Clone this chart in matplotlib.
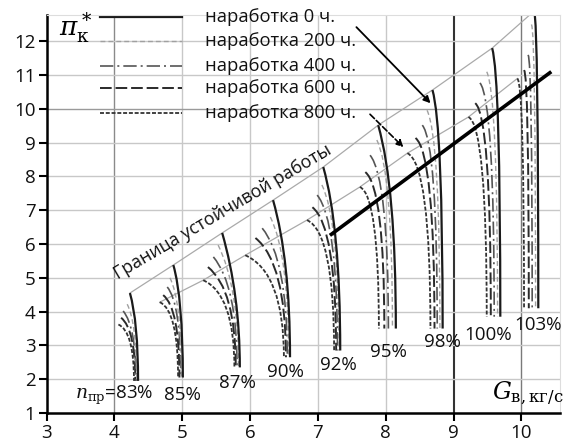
import matplotlib

matplotlib.use("Agg")
import matplotlib.pyplot as plt
from matplotlib.path import Path
from matplotlib.patches import PathPatch

# Напорные ветки характеристики компрессора при разной наработке
speeds = ["$n_{\\mathrm{пр}}$=83%", "85%", "87%", "90%", "92%", "95%", "98%", "100%", "103%"]
runtimes = ["наработка 0 ч.", "наработка 200 ч.", "наработка 400 ч.",
            "наработка 600 ч.", "наработка 800 ч."]

# верхняя точка ветки (граница устойчивой работы), по наработкам 0..800 ч
top_g = [
    [4.23, 4.19, 4.13, 4.10, 4.06],
    [4.87, 4.82, 4.78, 4.72, 4.67],
    [5.59, 5.53, 5.46, 5.38, 5.31],
    [6.34, 6.30, 6.18, 6.08, 5.93],
    [7.08, 7.06, 6.99, 6.92, 6.84],
    [7.89, 7.87, 7.77, 7.70, 7.62],
    [8.69, 8.61, 8.54, 8.44, 8.32],
    [9.57, 9.49, 9.39, 9.32, 9.22],
    [10.19, 10.15, 10.10, 10.04, 9.94],
]
top_p = [
    [4.55, 4.22, 4.02, 3.82, 3.62],
    [5.38, 5.00, 4.73, 4.49, 4.28],
    [6.33, 5.97, 5.62, 5.32, 4.93],
    [7.30, 6.80, 6.47, 6.18, 5.67],
    [8.28, 7.75, 7.45, 7.09, 6.71],
    [9.52, 9.08, 8.63, 8.13, 7.69],
    [10.56, 9.96, 9.52, 9.14, 8.69],
    [11.80, 11.10, 10.77, 10.17, 9.76],
    [12.90, 12.50, 11.60, 11.15, 10.90],
]
# точка перегиба (где ветка становится вертикальной)
knee_p = [
    [3.71, 3.66, 3.56, 3.48, 3.41],
    [4.40, 4.32, 4.25, 4.11, 4.04],
    [4.51, 4.77, 4.78, 4.66, 4.52],
    [5.55, 5.72, 5.58, 5.46, 5.16],
    [6.53, 6.75, 6.73, 6.53, 6.35],
    [7.70, 8.16, 7.98, 7.68, 7.44],
    [9.51, 9.20, 8.99, 8.69, 8.38],
    [10.96, 10.46, 10.27, 9.80, 9.52],
    [12.48, 12.26, 11.46, 11.04, 10.81],
]
# нижняя точка ветки
bot_g = [
    [4.35, 4.33, 4.32, 4.31, 4.29],
    [5.01, 4.99, 4.98, 4.96, 4.94],
    [5.85, 5.83, 5.81, 5.79, 5.77],
    [6.59, 6.57, 6.55, 6.53, 6.50],
    [7.33, 7.31, 7.29, 7.27, 7.24],
    [8.15, 8.10, 8.04, 7.98, 7.90],
    [8.84, 8.80, 8.76, 8.72, 8.66],
    [9.69, 9.65, 9.60, 9.55, 9.49],
    [10.25, 10.21, 10.16, 10.11, 10.04],
]
bot_p = [1.95, 2.05, 2.35, 2.65, 2.85, 3.50, 3.50, 3.85, 4.10]

# подписи частот
label_g = [3.42, 5.01, 5.81, 6.52, 7.31, 8.04, 8.83, 9.51, 10.25]
label_p = [1.53, 1.53, 1.89, 2.21, 2.42, 2.80, 3.10, 3.31, 3.60]

# жирная линия
line_g = [7.20, 10.42]
line_p = [6.29, 11.07]

styles = [
    dict(color="#1a1a1a", lw=1.6, ls="-"),
    dict(color="#a0a0a0", lw=1.0, ls=(0, (3.5, 2.2))),
    dict(color="#555555", lw=1.2, ls=(0, (8, 2.4, 1.2, 2.4))),
    dict(color="#2a2a2a", lw=1.4, ls=(0, (6, 2))),
    dict(color="#333333", lw=1.3, ls=(0, (2.2, 1))),
]

plt.rcParams["font.family"] = ["Open Sans", "DejaVu Sans"]
plt.rcParams["mathtext.fontset"] = "dejavuserif"

fig = plt.figure(figsize=(5.71, 4.41), dpi=100)
ax = fig.add_axes([46.5 / 571, 1 - 413 / 441, (560 - 46.5) / 571, (413 - 15) / 441])
ax.set_xlim(3, 10.57)
ax.set_ylim(1, 12.78)
ax.set_xticks(range(3, 11))
ax.set_yticks(range(1, 13))

# сетка
for x in range(4, 11):
    c = {4: "#8a8a8a", 9: "#333333", 10: "#7a7a7a"}.get(x, "#c8c8c8")
    ax.axvline(x, color=c, lw=1.5 if x == 9 else 1.0, zorder=0)
for y in range(2, 13):
    ax.axhline(y, color="#9a9a9a" if y == 10 else "#c8c8c8", lw=1.0, zorder=0)

for s in ["top", "right"]:
    ax.spines[s].set_color("#dddddd")
    ax.spines[s].set_linewidth(0.8)
for s in ["left", "bottom"]:
    ax.spines[s].set_linewidth(1.8)
ax.tick_params(labelsize=13.5, length=6, width=1.5, pad=2, labelcolor="#111111")

# границы устойчивой работы
ax.plot([t[0] for t in top_g], [t[0] for t in top_p], color="#aaaaaa", lw=0.9, zorder=1)
ax.plot([t[4] for t in top_g[1:]], [t[4] for t in top_p[1:]], color="#aaaaaa", lw=0.9, zorder=1)

# напорные ветки
for i in range(len(speeds)):
    for j in reversed(range(len(runtimes))):
        verts = [(top_g[i][j], top_p[i][j]), (bot_g[i][j], knee_p[i][j]),
                 (bot_g[i][j], bot_p[i])]
        path = Path(verts, [Path.MOVETO, Path.CURVE3, Path.CURVE3])
        st = styles[j]
        ax.add_patch(PathPatch(path, fill=False, edgecolor=st["color"], lw=st["lw"],
                               linestyle=st["ls"], zorder=2 + (4 - j) * 0.1))
    ax.text(label_g[i], label_p[i], speeds[i], fontsize=13.5,
            ha="left" if i == 0 else "center", va="center", color="#111111")

ax.plot(line_g, line_p, color="black", lw=2.6, zorder=4)

# легенда
leg_y = [0.995, 0.935, 0.872, 0.817, 0.754]
for j, name in enumerate(runtimes):
    st = styles[j]
    ax.plot([0.104, 0.264], [leg_y[j], leg_y[j]], transform=ax.transAxes,
            color=st["color"], lw=st["lw"], ls=st["ls"], clip_on=False)
    ax.text(0.309, leg_y[j], name, transform=ax.transAxes, fontsize=13.2,
            ha="left", va="center", color="#111111")

ax.annotate("", xy=(8.69, 10.11), xytext=(7.54, 12.48),
            arrowprops=dict(arrowstyle="-|>", color="black", lw=1.3,
                            mutation_scale=10))
ax.annotate("", xy=(8.29, 8.81), xytext=(7.74, 9.90),
            arrowprops=dict(arrowstyle="-|>", color="black", lw=1.2, ls="--",
                            mutation_scale=10))

ax.text(5.60, 6.95, "Граница устойчивой работы", fontsize=12.8, rotation=30.5,
        rotation_mode="anchor", ha="center", va="center", color="#111111")

ax.text(3.18, 12.42, r"$\pi^*_{\mathrm{к}}$", fontsize=19, ha="left", va="center")
ax.text(9.57, 1.59, r"$G_{\mathrm{в,кг/с}}$", fontsize=17, ha="left", va="center",
        clip_on=False)

fig.savefig("out.png", dpi=100)
